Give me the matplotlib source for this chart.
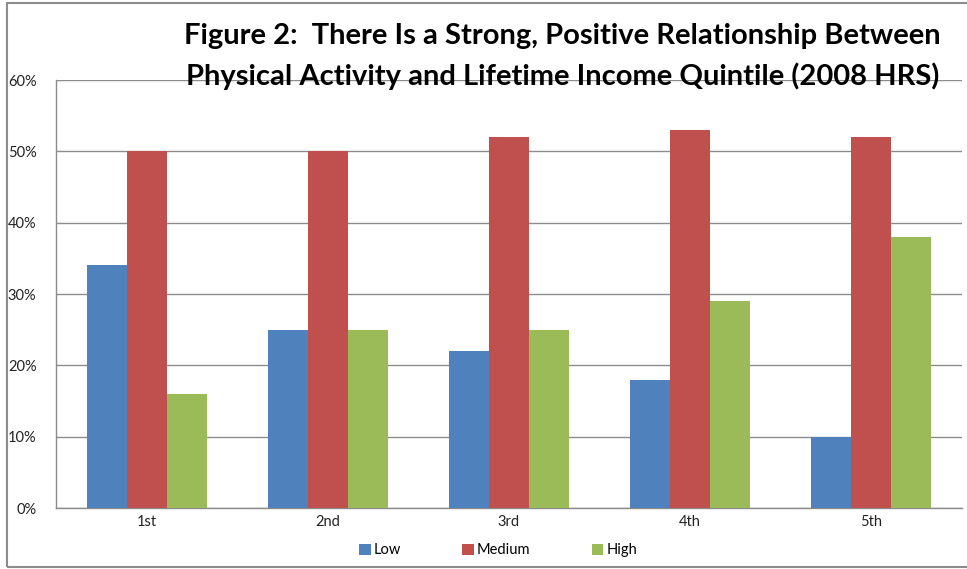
import matplotlib
matplotlib.use("Agg")
import matplotlib.pyplot as plt
import numpy as np
from matplotlib.patches import Rectangle

categories = ["1st", "2nd", "3rd", "4th", "5th"]
low = [34, 25, 22, 18, 10]
medium = [50, 50, 52, 53, 52]
high = [16, 25, 25, 29, 38]
series_names = ["Low", "Medium", "High"]
colors = ["#4F81BD", "#C0504D", "#9BBB59"]
yticks = [0, 10, 20, 30, 40, 50, 60]

plt.rcParams["font.family"] = ["Lato", "DejaVu Sans"]

fig = plt.figure(figsize=(9.67, 5.69), dpi=100)
ax = fig.add_axes([0.0579, 0.1072, 0.9369, 0.7522])

x = np.arange(len(categories))
w = 0.221
for i, (vals, name, c) in enumerate(zip([low, medium, high], series_names, colors)):
    ax.bar(x + (i - 1) * w, vals, width=w, color=c, label=name, zorder=3)

ax.set_xlim(-0.5, len(categories) - 0.5)
ax.set_ylim(0, 60)
ax.set_yticks(yticks)
ax.set_yticklabels([f"{v}%" for v in yticks], fontsize=10.5)
ax.set_xticks(x)
ax.set_xticklabels(categories, fontsize=10.5)
ax.tick_params(axis="both", length=0, colors="#222222")
ax.tick_params(axis="y", pad=14)
ax.tick_params(axis="x", pad=5)
ax.grid(axis="y", color="#8C8C8C", linewidth=1.0, zorder=0)
for s in ["top", "right"]:
    ax.spines[s].set_visible(False)
for s in ["left", "bottom"]:
    ax.spines[s].set_color("#8C8C8C")
    ax.spines[s].set_linewidth(1.0)

leg = fig.legend(loc="center", bbox_to_anchor=(0.515, 0.033), ncol=3, frameon=False,
                 fontsize=10.5, handlelength=0.8, handleheight=0.8, handletextpad=0.2,
                 columnspacing=4.2)

fig.text(0.582, 0.937, "Figure 2:  There Is a Strong, Positive Relationship Between",
         ha="center", va="center", fontsize=21, fontweight="bold")
fig.text(0.582, 0.866, "Physical Activity and Lifetime Income Quintile (2008 HRS)",
         ha="center", va="center", fontsize=21, fontweight="bold")

# outer chart frame
fig.patches.append(Rectangle((7 / 967, 1 - 567 / 569), 1.0, (567 - 3) / 569,
                             transform=fig.transFigure, fill=False,
                             edgecolor="#8C8C8C", linewidth=1.5))

fig.savefig("out.png", dpi=100)
